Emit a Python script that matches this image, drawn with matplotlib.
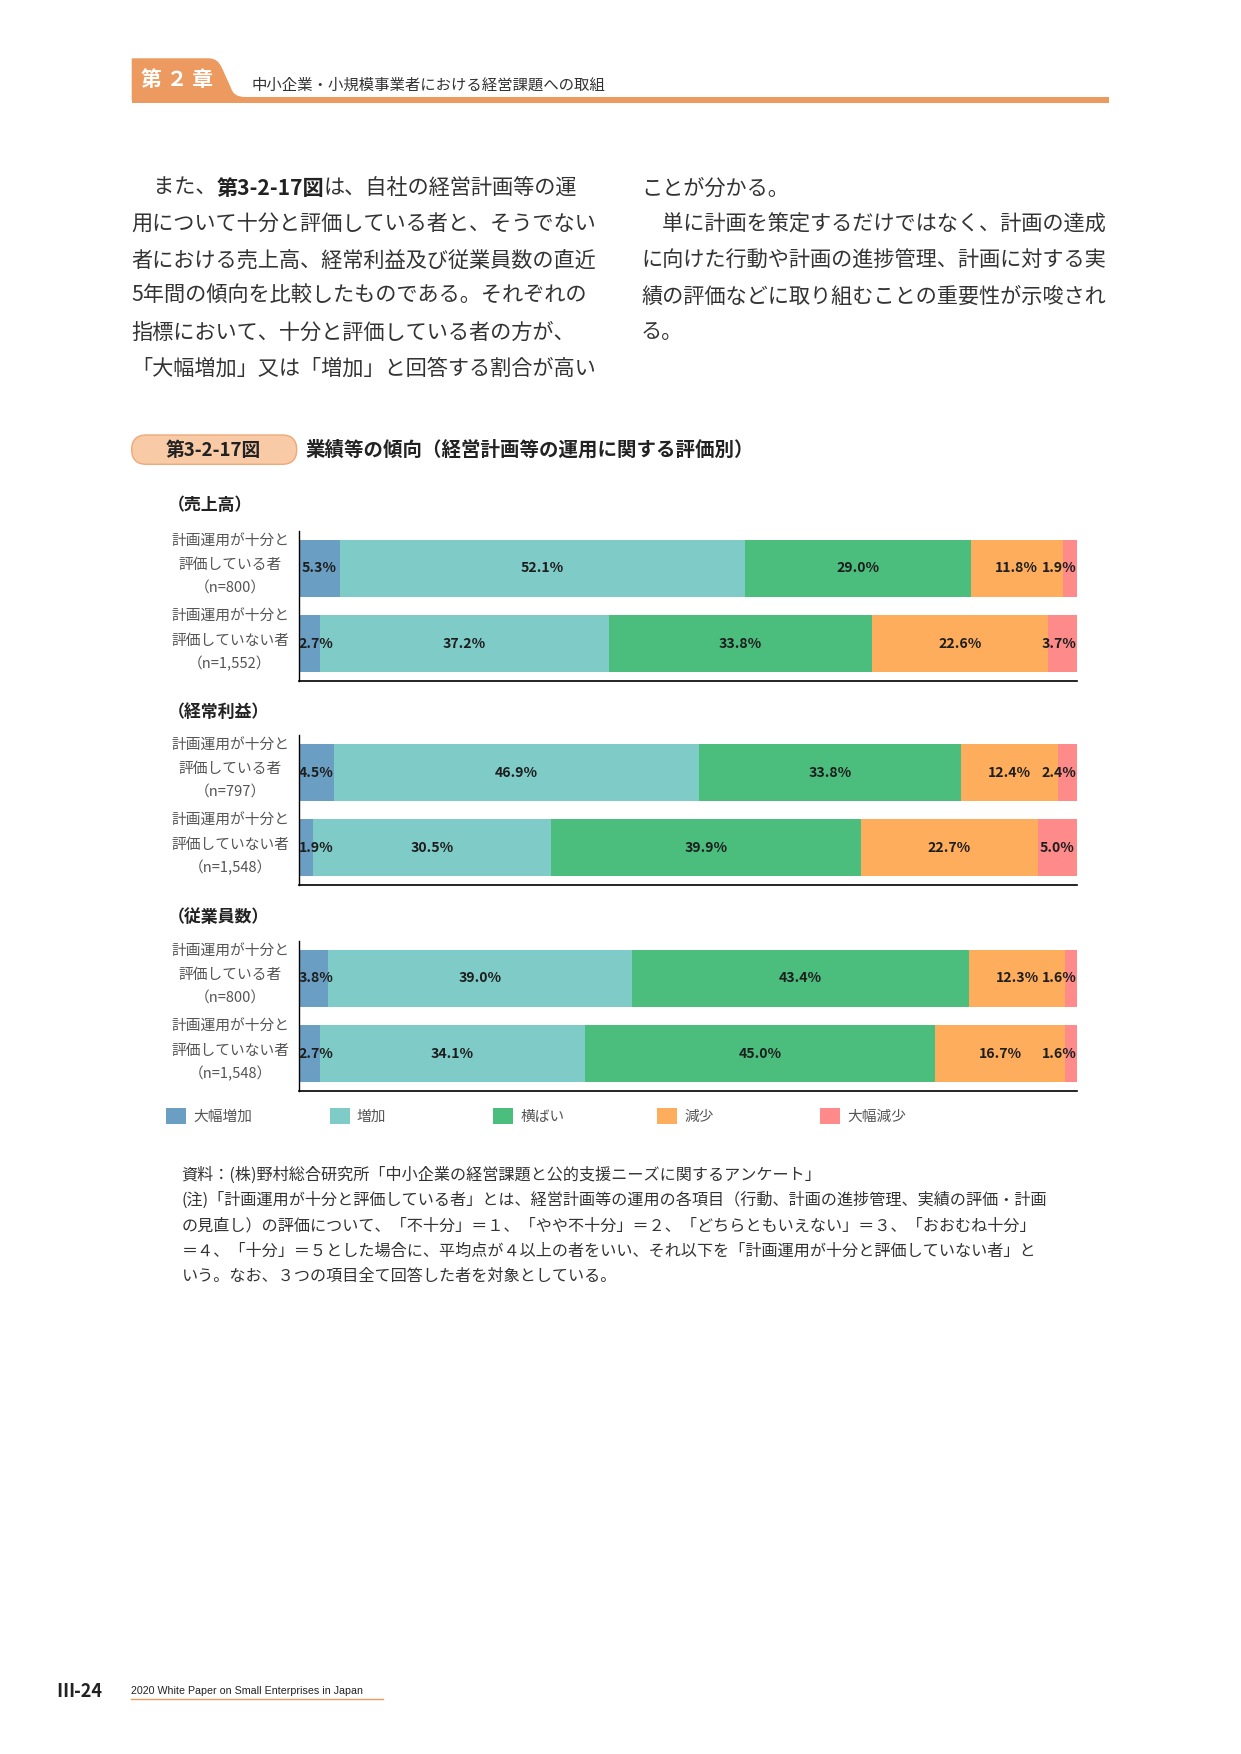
import matplotlib.pyplot as plt
from matplotlib.patches import Patch, Rectangle, FancyBboxPatch, PathPatch
from matplotlib.path import Path

plt.rcParams['font.family'] = ['Noto Sans CJK JP', 'DejaVu Sans']

# data
categories = ["大幅増加", "増加", "横ばい", "減少", "大幅減少"]
colors = ["#6a9fc3", "#7fcbc7", "#4bbd7c", "#fdad5b", "#fe8a8a"]

sections = ["（売上高）", "（経常利益）", "（従業員数）"]
row_line1 = "計画運用が十分と"
row_line2 = ["評価している者", "評価していない者"]
n_labels = [["（n=800）", "（n=1,552）"],
            ["（n=797）", "（n=1,548）"],
            ["（n=800）", "（n=1,548）"]]

sales = [[5.3, 52.1, 29.0, 11.8, 1.9],
         [2.7, 37.2, 33.8, 22.6, 3.7]]
profit = [[4.5, 46.9, 33.8, 12.4, 2.4],
          [1.9, 30.5, 39.9, 22.7, 5.0]]
employees = [[3.8, 39.0, 43.4, 12.3, 1.6],
             [2.7, 34.1, 45.0, 16.7, 1.6]]

left_lines = [
    "用について十分と評価している者と、そうでない",
    "者における売上高、経常利益及び従業員数の直近",
    "5年間の傾向を比較したものである。それぞれの",
    "指標において、十分と評価している者の方が、",
    "「大幅増加」又は「増加」と回答する割合が高い",
]
right_lines = [
    "ことが分かる。",
    "　単に計画を策定するだけではなく、計画の達成",
    "に向けた行動や計画の進捗管理、計画に対する実",
    "績の評価などに取り組むことの重要性が示唆され",
    "る。",
]
notes = [
    "資料：(株)野村総合研究所「中小企業の経営課題と公的支援ニーズに関するアンケート」",
    "(注)「計画運用が十分と評価している者」とは、経営計画等の運用の各項目（行動、計画の進捗管理、実績の評価・計画",
    "の見直し）の評価について、「不十分」＝１、「やや不十分」＝２、「どちらともいえない」＝３、「おおむね十分」",
    "＝４、「十分」＝５とした場合に、平均点が４以上の者をいい、それ以下を「計画運用が十分と評価していない者」と",
    "いう。なお、３つの項目全て回答した者を対象としている。",
]

W, H = 1241, 1754
fig = plt.figure(figsize=(W / 100, H / 100), dpi=100)
page = fig.add_axes([0, 0, 1, 1])
page.set_xlim(0, W)
page.set_ylim(H, 0)
page.axis('off')

orange = "#ec9a5f"
text_col = "#333333"

# header
verts = [(131.7, 100), (131.7, 58.3), (208, 58.3),
         (216, 58.3), (219, 62), (222, 68),
         (231, 88),
         (233, 94), (237, 97), (246, 97),
         (246, 100), (131.7, 100)]
codes = [Path.MOVETO, Path.LINETO, Path.LINETO,
         Path.CURVE4, Path.CURVE4, Path.CURVE4,
         Path.LINETO,
         Path.CURVE4, Path.CURVE4, Path.CURVE4,
         Path.LINETO, Path.CLOSEPOLY]
page.add_patch(PathPatch(Path(verts, codes), facecolor=orange, edgecolor='none'))
page.add_patch(Rectangle((131.7, 96.7), 1108.5 - 131.7, 6, facecolor=orange, edgecolor='none'))
page.text(177, 80, "第 ２ 章", ha='center', va='center', fontsize=15, fontweight='bold', color='white')
page.text(251.7, 85, "中小企業・小規模事業者における経営課題への取組", ha='left', va='center',
          fontsize=11.1, color=text_col)

# body text
fs_body = 15.25
t1 = page.text(131.7, 188.3, "　また、", ha='left', va='center', fontsize=fs_body, color=text_col)
t2 = page.annotate("第3-2-17図", xy=(1, 0.5), xycoords=t1, ha='left', va='center',
                   fontsize=fs_body, fontweight='bold', color='#222222')
page.annotate("は、自社の経営計画等の運", xy=(1, 0.5), xycoords=t2, ha='left', va='center',
              fontsize=fs_body, color=text_col)
for i, line in enumerate(left_lines):
    page.text(131.7, 188.3 + 36 * (i + 1), line, ha='left', va='center', fontsize=fs_body, color=text_col)
for i, line in enumerate(right_lines):
    page.text(641, 188.3 + 36 * i, line, ha='left', va='center', fontsize=fs_body, color=text_col)

# figure title
page.add_patch(FancyBboxPatch((131.7, 435), 165, 29.3, boxstyle="round,pad=0,rounding_size=14.6",
                              facecolor="#f8caa6", edgecolor="#efa877", linewidth=1))
page.text(213, 450, "第3-2-17図", ha='center', va='center', fontsize=13.5, fontweight='bold', color='#222222')
page.text(305, 450, "業績等の傾向（経営計画等の運用に関する評価別）", ha='left', va='center',
          fontsize=14, fontweight='bold', color='#222222')

# charts
ax_bottoms = [681, 885, 1091]
heading_y = [505, 711.7, 916.7]
ax_left, ax_right, ax_h = 298.7, 1076.6, 150
labels = []
for k, data in enumerate([sales, profit, employees]):
    yb = ax_bottoms[k]
    ax = fig.add_axes([ax_left / W, 1 - yb / H, (ax_right - ax_left) / W, ax_h / H])
    ypos = [1, 0]
    for r in range(2):
        left = 0
        for c in range(5):
            v = data[r][c]
            ax.barh(ypos[r], v, left=left, height=0.76, color=colors[c], linewidth=0)
            t = ax.text(left + v / 2, ypos[r], f"{v:.1f}%", ha='center', va='center',
                        fontsize=10.1, fontweight='bold', color='#1e1e1e')
            labels.append((ax, t))
            left += v
    ax.set_xlim(0, 100)
    ax.set_ylim(-0.5, 1.5)
    ax.set_xticks([])
    ax.set_yticks([])
    for s in ['top', 'right']:
        ax.spines[s].set_visible(False)
    ax.spines['left'].set_linewidth(1.0)
    ax.spines['bottom'].set_linewidth(1.2)
    ax.patch.set_alpha(0)

    page.text(168, heading_y[k], sections[k], ha='left', va='center', fontsize=12.2,
              fontweight='bold', color='#222222')
    for r in range(2):
        yc = yb - ax_h * (ypos[r] + 0.5) / 2.0
        page.text(230, yc - 27, row_line1, ha='center', va='center', fontsize=10.6, color='#555555')
        page.text(230, yc - 3, row_line2[r], ha='center', va='center', fontsize=10.6, color='#555555')
        page.text(230, yc + 20, n_labels[k][r], ha='center', va='center', fontsize=10.6, color='#555555')

# legend
leg_x = [166, 330, 493.3, 657, 820]
for i, cat in enumerate(categories):
    lg = fig.legend(handles=[Patch(facecolor=colors[i], edgecolor='none', label=cat)],
                    loc='center left', bbox_to_anchor=(leg_x[i] / W, 1 - 1115.7 / H),
                    frameon=False, fontsize=10.6, handlelength=1.33, handleheight=1.33,
                    handletextpad=0.5, borderpad=0, borderaxespad=0)
    for tx in lg.get_texts():
        tx.set_color('#555555')

# notes
for i, line in enumerate(notes):
    page.text(181.7, 1175 + 25.4 * i, line, ha='left', va='center', fontsize=11.6, color=text_col)

# footer
page.text(56.7, 1691.7, "Ⅲ-24", ha='left', va='center', fontsize=13, fontweight='bold', color='#222222')
page.text(130.7, 1690.7, "2020 White Paper on Small Enterprises in Japan", ha='left', va='center',
          fontsize=7.7, family='Liberation Sans', color='#222222')
page.plot([130.7, 383.3], [1699.3, 1699.3], color=orange, linewidth=1)

# keep end labels inside the bar area
fig.canvas.draw()
rend = fig.canvas.get_renderer()
for ax, t in labels:
    bb = t.get_window_extent(rend).transformed(ax.transData.inverted())
    x, y = t.get_position()
    if bb.x0 < 0:
        t.set_x(x - bb.x0)
    elif bb.x1 > 100:
        t.set_x(x - (bb.x1 - 100))

fig.savefig("out.png", dpi=100)
